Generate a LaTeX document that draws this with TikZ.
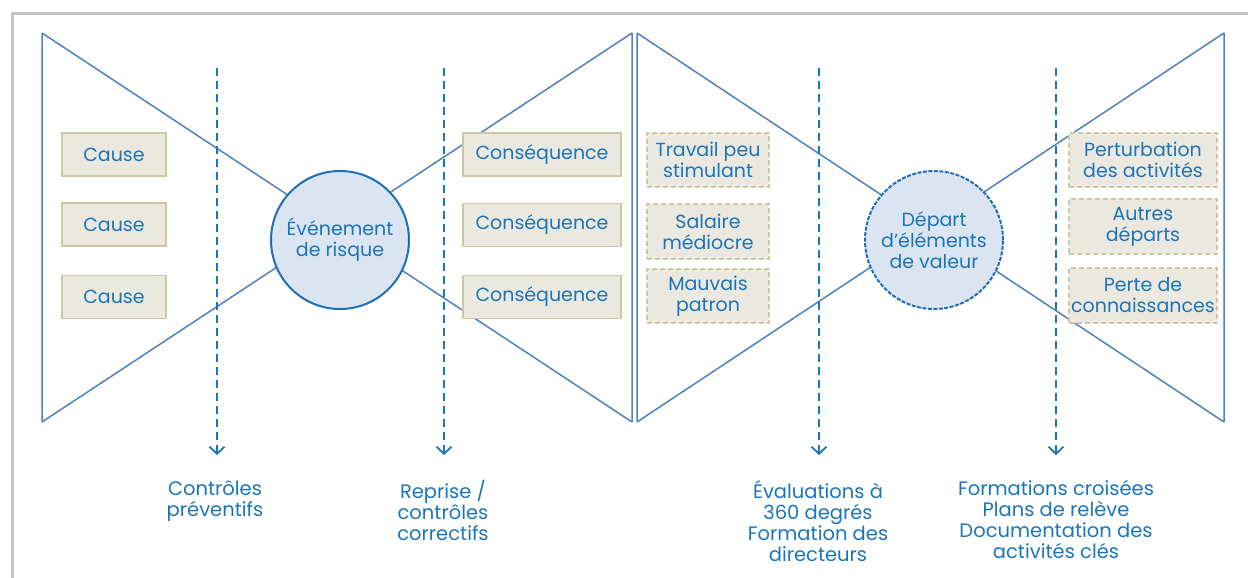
\documentclass[tikz,border=0pt]{standalone}
\usepackage{fontspec}
\setmainfont{Poppins}
\usetikzlibrary{arrows.meta}
\definecolor{txtblue}{HTML}{1B75BB}
\definecolor{lineblue}{HTML}{4F81BD}
\definecolor{circblue}{HTML}{1F6FB8}
\definecolor{circfill}{HTML}{DBE5F1}
\definecolor{boxfill}{HTML}{EBE9DF}
\definecolor{boxdraw}{HTML}{CFC7A2}
\definecolor{framegrey}{HTML}{C4C4C8}
\tikzset{
  bowline/.style={draw=lineblue, line width=1.5pt},
  evcirc/.style={circle, draw=circblue, fill=circfill, line width=2pt, minimum size=138pt, inner sep=0pt, align=center, text=txtblue, font=\fontsize{19}{21}\selectfont},
  solidbox/.style={draw=boxdraw, fill=boxfill, line width=1.2pt, text=txtblue, font=\fontsize{19}{21}\selectfont, align=center, inner sep=0pt},
  dashbox/.style={solidbox, dashed, dash pattern=on 5pt off 3pt},
  ctrlarrow/.style={draw=txtblue, line width=2.2pt, dash pattern=on 8pt off 5pt, -{Straight Barb[length=7pt,width=15pt,line width=1.8pt]}},
  ctrllabel/.style={text=txtblue, font=\fontsize{19.5}{21}\selectfont, align=center, anchor=north, inner sep=0pt}
}
\begin{document}
\begin{tikzpicture}[x=1pt,y=-1pt]
\useasboundingbox (0,0) rectangle (1248,578);
% frame
\draw[framegrey, line width=3pt] (12,578) -- (12,14) -- (1248,14);
% left bowtie
\coordinate (l1) at (42,33);
\coordinate (l2) at (42,422);
\coordinate (l3) at (632,33);
\coordinate (l4) at (632,422);
\draw[bowline] (l1) -- (l2) (l3) -- (l4) (l1) -- (l4) (l2) -- (l3);
% right bowtie
\coordinate (r1) at (637,33);
\coordinate (r2) at (637,422);
\coordinate (r3) at (1224,33);
\coordinate (r4) at (1224,422);
\draw[bowline] (r1) -- (r2) (r3) -- (r4) (r1) -- (r4) (r2) -- (r3);
% control arrows
\coordinate (a1s) at (217,68); \coordinate (a1e) at (217,455);
\coordinate (a2s) at (444,68); \coordinate (a2e) at (444,455);
\coordinate (a3s) at (819,68); \coordinate (a3e) at (819,455);
\coordinate (a4s) at (1056,68); \coordinate (a4e) at (1056,455);
\draw[ctrlarrow] (a1s) -- (a1e);
\draw[ctrlarrow] (a2s) -- (a2e);
\draw[ctrlarrow] (a3s) -- (a3e);
\draw[ctrlarrow] (a4s) -- (a4e);
% circles
\node[evcirc] (ev1) at (340,240) {Événement\\de risque};
\node[evcirc, dashed, dash pattern=on 4pt off 1.5pt] (ev2) at (934,240) {Départ\\d’éléments\\de valeur};
% cause boxes
\node[solidbox, minimum width=104pt, minimum height=43pt] (c1) at (114,154.5) {Cause};
\node[solidbox, minimum width=104pt, minimum height=43pt] (c2) at (114,224.5) {Cause};
\node[solidbox, minimum width=104pt, minimum height=43pt] (c3) at (114,297) {Cause};
% consequence boxes
\node[solidbox, minimum width=158pt, minimum height=43pt] (q1) at (542,154.5) {Conséquence};
\node[solidbox, minimum width=158pt, minimum height=43pt] (q2) at (542,225) {Conséquence};
\node[solidbox, minimum width=158pt, minimum height=43pt] (q3) at (542,297) {Conséquence};
% drivers
\node[dashbox, minimum width=122pt, minimum height=54pt] (d1) at (708,160) {Travail peu\\stimulant};
\node[dashbox, minimum width=122pt, minimum height=55pt] (d2) at (708,231.5) {Salaire\\médiocre};
\node[dashbox, minimum width=122pt, minimum height=54pt] (d3) at (708,296) {Mauvais\\patron};
% impacts
\node[dashbox, minimum width=148pt, minimum height=54pt] (i1) at (1143,160) {Perturbation\\des activités};
\node[dashbox, minimum width=148pt, minimum height=55pt] (i2) at (1143,226.5) {Autres\\départs};
\node[dashbox, minimum width=148pt, minimum height=55pt] (i3) at (1143,295.5) {Perte de\\connaissances};
% labels
\node[ctrllabel] (t1) at (215,480) {Contrôles\\préventifs};
\node[ctrllabel] (t2) at (443,480) {Reprise /\\contrôles\\correctifs};
\node[ctrllabel] (t3) at (818,480) {Évaluations à\\360 degrés\\Formation des\\directeurs};
\node[ctrllabel] (t4) at (1056,480) {Formations croisées\\Plans de relève\\Documentation des\\activités clés};
\end{tikzpicture}
\end{document}
